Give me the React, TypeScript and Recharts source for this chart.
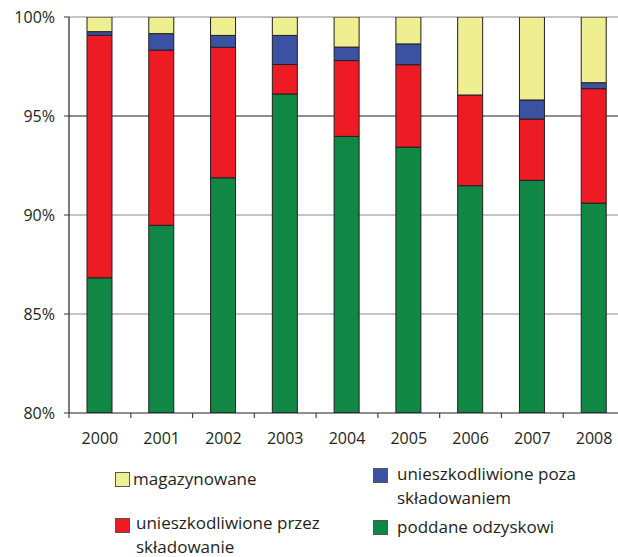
import React from 'react';
import { BarChart, Bar, XAxis, YAxis, CartesianGrid } from 'recharts';

// Structure of waste management by year (% of total), stacked from 80% upward
const years = ['2000', '2001', '2002', '2003', '2004', '2005', '2006', '2007', '2008'];
const poddaneOdzyskowi = [86.83, 89.48, 91.88, 96.11, 93.97, 93.43, 91.48, 91.75, 90.6];
const przezSkladowanie = [12.25, 8.85, 6.59, 1.49, 3.83, 4.16, 4.58, 3.1, 5.78];
const pozaSkladowaniem = [0.18, 0.83, 0.6, 1.47, 0.68, 1.05, 0, 0.96, 0.3];
const magazynowane = [0.74, 0.84, 0.93, 0.93, 1.52, 1.36, 3.94, 4.19, 3.32];
const yTicks = [80, 85, 90, 95, 100];
const greyGrid = [85, 90, 100];
const darkGrid = [95];

const data = years.map((year, i) => ({
  year,
  odzysk: poddaneOdzyskowi[i],
  skladowanie: przezSkladowanie[i],
  poza: pozaSkladowaniem[i],
  magazyn: magazynowane[i],
}));

const FONT = '"Open Sans", "Noto Sans", sans-serif';
const TEXT = '#231f20';
const EDGE = '#231f20';

const COLORS = {
  magazyn: '#efee90',
  skladowanie: '#ed1c24',
  poza: '#3b52a3',
  odzysk: '#118745',
};

const PLOT_TOP = 17;
const PLOT_H = 396;

function YearTick(props: any) {
  const { x, y, payload } = props;
  const half = payload && payload.offset ? payload.offset : 30.9;
  return (
    <g>
      <line x1={x - half} y1={y} x2={x - half} y2={y + 5} stroke="#444" strokeWidth={1.2} />
      <text
        x={x}
        y={y + 25}
        textAnchor="middle"
        dominantBaseline="central"
        fontSize={16}
        fill={TEXT}
        fontFamily={FONT}
      >
        {payload.value}
      </text>
    </g>
  );
}

function Swatch({ color }: { color: string }) {
  return (
    <div
      style={{
        position: 'absolute',
        width: 13,
        height: 13,
        background: color,
        border: '1px solid #555',
      }}
    />
  );
}

const legendItems = [
  { key: 'magazyn', lines: ['magazynowane'], left: 115, top: 472, textLeft: 133, textTop: 467 },
  { key: 'poza', lines: ['unieszkodliwione poza', 'składowaniem'], left: 373, top: 468, textLeft: 397, textTop: 462 },
  { key: 'skladowanie', lines: ['unieszkodliwione przez', 'składowanie'], left: 115, top: 518, textLeft: 136, textTop: 511 },
  { key: 'odzysk', lines: ['poddane odzyskowi'], left: 373, top: 520, textLeft: 397, textTop: 515 },
];

export default function App() {
  return (
    <div
      style={{
        position: 'absolute',
        left: 0,
        top: 0,
        width: 618,
        height: 557,
        overflow: 'hidden',
        background: '#fff',
        fontFamily: FONT,
      }}
    >
      <BarChart
        width={640}
        height={PLOT_TOP + PLOT_H + 42}
        data={data}
        margin={{ top: PLOT_TOP, right: 15, bottom: 0, left: 0 }}
        barSize={25}
      >
        <CartesianGrid vertical={false} horizontalValues={greyGrid} stroke="#8c8c8c" strokeWidth={1.2} />
        <CartesianGrid vertical={false} horizontalValues={darkGrid} stroke={EDGE} strokeWidth={1.2} />
        <XAxis
          dataKey="year"
          height={42}
          axisLine={{ stroke: EDGE, strokeWidth: 1.2 }}
          tickLine={false}
          tickSize={0}
          tickMargin={0}
          interval={0}
          tick={<YearTick />}
        />
        <YAxis
          width={69}
          domain={[80, 100]}
          ticks={yTicks}
          allowDataOverflow
          tickFormatter={(v: number) => `${v}%`}
          axisLine={{ stroke: EDGE, strokeWidth: 1.2 }}
          tickLine={{ stroke: '#555', strokeWidth: 1.2 }}
          tickSize={5}
          tickMargin={9}
          tick={{ fontSize: 16, fill: TEXT, fontFamily: FONT }}
        />
        <Bar dataKey="odzysk" stackId="a" fill={COLORS.odzysk} stroke={EDGE} strokeWidth={1} isAnimationActive={false} />
        <Bar dataKey="skladowanie" stackId="a" fill={COLORS.skladowanie} stroke={EDGE} strokeWidth={1} isAnimationActive={false} />
        <Bar dataKey="poza" stackId="a" fill={COLORS.poza} stroke={EDGE} strokeWidth={1} isAnimationActive={false} />
        <Bar dataKey="magazyn" stackId="a" fill={COLORS.magazyn} stroke={EDGE} strokeWidth={1} isAnimationActive={false} />
      </BarChart>

      {legendItems.map((item) => (
        <React.Fragment key={item.key}>
          <div style={{ position: 'absolute', left: item.left, top: item.top }}>
            <Swatch color={(COLORS as any)[item.key]} />
          </div>
          <div
            style={{
              position: 'absolute',
              left: item.textLeft,
              top: item.textTop,
              fontSize: 17,
              lineHeight: '24px',
              color: TEXT,
              whiteSpace: 'nowrap',
            }}
          >
            {item.lines.map((l) => (
              <div key={l}>{l}</div>
            ))}
          </div>
        </React.Fragment>
      ))}
    </div>
  );
}
